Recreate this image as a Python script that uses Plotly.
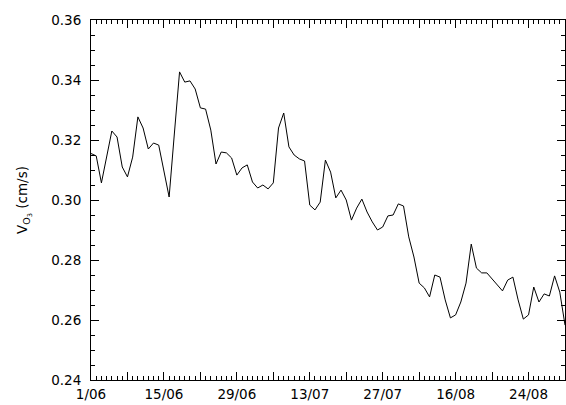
import datetime as dt
import plotly.graph_objects as go

# daily deposition velocity, 1 June - 31 August
start = dt.date(2000, 6, 1)
v_o3 = [
    0.3155, 0.3147, 0.3057, 0.3145, 0.3230, 0.3210, 0.3110, 0.3077, 0.3143, 0.3277,
    0.3240, 0.3170, 0.3190, 0.3183, 0.3100, 0.3010, 0.3220, 0.3427, 0.3393, 0.3397,
    0.3370, 0.3307, 0.3303, 0.3233, 0.3120, 0.3160, 0.3157, 0.3140, 0.3083, 0.3107,
    0.3117, 0.3060, 0.3040, 0.3050, 0.3037, 0.3057, 0.3240, 0.3290, 0.3177, 0.3150,
    0.3137, 0.3130, 0.2983, 0.2967, 0.2993, 0.3133, 0.3093, 0.3007, 0.3033, 0.3000,
    0.2933, 0.2973, 0.3003, 0.2960, 0.2927, 0.2900, 0.2910, 0.2947, 0.2950, 0.2987,
    0.2980, 0.2877, 0.2810, 0.2723, 0.2707, 0.2677, 0.2750, 0.2743, 0.2667, 0.2607,
    0.2617, 0.2660, 0.2723, 0.2853, 0.2773, 0.2757, 0.2757, 0.2737, 0.2717, 0.2697,
    0.2733, 0.2743, 0.2667, 0.2603, 0.2617, 0.2710, 0.2660, 0.2687, 0.2680, 0.2747,
    0.2693, 0.2583,
]
dates = [start + dt.timedelta(days=i) for i in range(len(v_o3))]

# weekly major ticks, labelled every other week (labels as in the original)
tick_days = [0, 7, 14, 21, 28, 35, 42, 49, 56, 63, 70, 77, 84, 91]
tick_text = ["1/06", " ", "15/06", " ", "29/06", " ", "13/07", " ", "27/07", " ",
             "16/08", " ", "24/08", " "]
tick_vals = [start + dt.timedelta(days=d) for d in tick_days]

fig = go.Figure(go.Scatter(x=dates, y=v_o3, mode="lines",
                           line=dict(color="black", width=1)))

axis_font = dict(family="DejaVu Sans", size=13.5, color="black")
fig.update_xaxes(
    range=[start, start + dt.timedelta(days=91)],
    tickmode="array", tickvals=tick_vals, ticktext=tick_text,
    ticks="inside", ticklen=8, tickcolor="black", tickwidth=1,
    minor=dict(ticks="inside", ticklen=4, dtick=86400000, tick0=start,
               tickcolor="black", showgrid=False),
    showline=True, linecolor="black", linewidth=1, mirror="allticks",
    showgrid=False, zeroline=False, tickfont=axis_font, ticklabelstandoff=2,
    automargin=False,
)
fig.update_yaxes(
    range=[0.24, 0.36], tickmode="array",
    tickvals=[0.24, 0.26, 0.28, 0.30, 0.32, 0.34, 0.36],
    ticktext=["0.24", "0.26", "0.28", "0.30", "0.32", "0.34", "0.36"],
    ticks="inside", ticklen=8, tickcolor="black", tickwidth=1,
    minor=dict(ticks="inside", ticklen=4, dtick=0.005, tick0=0.24,
               tickcolor="black", showgrid=False),
    showline=True, linecolor="black", linewidth=1, mirror="allticks",
    showgrid=False, zeroline=False, tickfont=axis_font, ticklabelstandoff=6,
    title=dict(text="V<sub>O<sub>3</sub></sub> (cm/s)", font=axis_font, standoff=20),
    automargin=False,
)
fig.update_layout(
    width=566, height=405,
    margin=dict(l=91, r=1, t=20, b=25),
    plot_bgcolor="white", paper_bgcolor="white",
    showlegend=False,
)

# drop the page's default body margin so the figure sits at the window corner
fig.write_html("out.html", config={"displayModeBar": False},
               post_script="document.body.style.margin='0';"
                           "document.body.style.overflow='hidden';")
